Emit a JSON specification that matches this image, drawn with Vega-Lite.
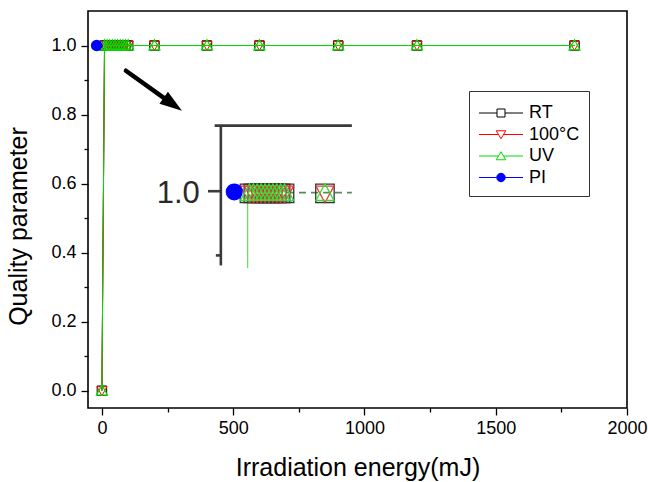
{
  "$schema": "https://vega.github.io/schema/vega-lite/v6.json",
  "width": 539,
  "height": 397,
  "autosize": "none",
  "padding": {"left": 88, "top": 11, "right": 21, "bottom": 74},
  "background": "white",
  "config": {
    "view": {"stroke": "black", "strokeWidth": 1.6},
    "font": "Liberation Sans",
    "axis": {
      "domain": false, "grid": false, "tickColor": "black", "tickWidth": 1.3,
      "labelColor": "black", "titleColor": "black",
      "labelFont": "Liberation Sans", "titleFont": "Liberation Sans",
      "labelFontSize": 18, "titleFontSize": 25, "titleFontWeight": "normal"
    },
    "legend": {
      "orient": "none", "legendX": 381, "legendY": 80, "padding": 9, "strokeColor": "#333333", "fillColor": "white",
      "symbolSize": 100, "symbolStrokeWidth": 1, "symbolOffset": 14, "labelOffset": 19, "rowPadding": 3.5,
      "labelFontSize": 18, "labelFont": "Liberation Sans", "labelColor": "black", "cornerRadius": 0,
      "titleFontSize": 4, "titlePadding": 0, "titleFont": "Liberation Sans"
    }
  },
  "datasets": {
    "main": [
      {"series": "RT", "x": 0, "y": 0}, {"series": "RT", "x": 10, "y": 1}, {"series": "RT", "x": 20, "y": 1}, {"series": "RT", "x": 30, "y": 1}, {"series": "RT", "x": 40, "y": 1}, {"series": "RT", "x": 50, "y": 1}, {"series": "RT", "x": 60, "y": 1}, {"series": "RT", "x": 70, "y": 1}, {"series": "RT", "x": 80, "y": 1}, {"series": "RT", "x": 90, "y": 1}, {"series": "RT", "x": 100, "y": 1}, {"series": "RT", "x": 200, "y": 1}, {"series": "RT", "x": 400, "y": 1}, {"series": "RT", "x": 600, "y": 1}, {"series": "RT", "x": 900, "y": 1}, {"series": "RT", "x": 1200, "y": 1}, {"series": "RT", "x": 1800, "y": 1},
      {"series": "100°C", "x": 0, "y": 0}, {"series": "100°C", "x": 10, "y": 1}, {"series": "100°C", "x": 20, "y": 1}, {"series": "100°C", "x": 30, "y": 1}, {"series": "100°C", "x": 40, "y": 1}, {"series": "100°C", "x": 50, "y": 1}, {"series": "100°C", "x": 60, "y": 1}, {"series": "100°C", "x": 70, "y": 1}, {"series": "100°C", "x": 80, "y": 1}, {"series": "100°C", "x": 90, "y": 1}, {"series": "100°C", "x": 100, "y": 1}, {"series": "100°C", "x": 200, "y": 1}, {"series": "100°C", "x": 400, "y": 1}, {"series": "100°C", "x": 600, "y": 1}, {"series": "100°C", "x": 900, "y": 1}, {"series": "100°C", "x": 1200, "y": 1}, {"series": "100°C", "x": 1800, "y": 1},
      {"series": "UV", "x": 0, "y": 0}, {"series": "UV", "x": 10, "y": 1}, {"series": "UV", "x": 20, "y": 1}, {"series": "UV", "x": 30, "y": 1}, {"series": "UV", "x": 40, "y": 1}, {"series": "UV", "x": 50, "y": 1}, {"series": "UV", "x": 60, "y": 1}, {"series": "UV", "x": 70, "y": 1}, {"series": "UV", "x": 80, "y": 1}, {"series": "UV", "x": 90, "y": 1}, {"series": "UV", "x": 100, "y": 1}, {"series": "UV", "x": 200, "y": 1}, {"series": "UV", "x": 400, "y": 1}, {"series": "UV", "x": 600, "y": 1}, {"series": "UV", "x": 900, "y": 1}, {"series": "UV", "x": 1200, "y": 1}, {"series": "UV", "x": 1800, "y": 1},
      {"series": "PI", "x": -20, "y": 1}
    ],
    "insetPts": [
      {"series": "RT", "x": 561.9, "y": 0.572}, {"series": "RT", "x": 576.8, "y": 0.572}, {"series": "RT", "x": 591.6, "y": 0.572}, {"series": "RT", "x": 606.5, "y": 0.572}, {"series": "RT", "x": 621.3, "y": 0.572}, {"series": "RT", "x": 636.2, "y": 0.572}, {"series": "RT", "x": 651.0, "y": 0.572}, {"series": "RT", "x": 665.9, "y": 0.572}, {"series": "RT", "x": 680.8, "y": 0.572}, {"series": "RT", "x": 695.6, "y": 0.572}, {"series": "RT", "x": 849.5, "y": 0.572},
      {"series": "100°C", "x": 561.9, "y": 0.572}, {"series": "100°C", "x": 576.8, "y": 0.572}, {"series": "100°C", "x": 591.6, "y": 0.572}, {"series": "100°C", "x": 606.5, "y": 0.572}, {"series": "100°C", "x": 621.3, "y": 0.572}, {"series": "100°C", "x": 636.2, "y": 0.572}, {"series": "100°C", "x": 651.0, "y": 0.572}, {"series": "100°C", "x": 665.9, "y": 0.572}, {"series": "100°C", "x": 680.8, "y": 0.572}, {"series": "100°C", "x": 695.6, "y": 0.572}, {"series": "100°C", "x": 849.5, "y": 0.572},
      {"series": "UV", "x": 561.9, "y": 0.572}, {"series": "UV", "x": 576.8, "y": 0.572}, {"series": "UV", "x": 591.6, "y": 0.572}, {"series": "UV", "x": 606.5, "y": 0.572}, {"series": "UV", "x": 621.3, "y": 0.572}, {"series": "UV", "x": 636.2, "y": 0.572}, {"series": "UV", "x": 651.0, "y": 0.572}, {"series": "UV", "x": 665.9, "y": 0.572}, {"series": "UV", "x": 680.8, "y": 0.572}, {"series": "UV", "x": 695.6, "y": 0.572}, {"series": "UV", "x": 849.5, "y": 0.572},
      {"series": "PI", "x": 504, "y": 0.576}
    ],
    "insetRules": [
      {"part": "axis", "x": 429.5, "x2": 952, "y": 0.768, "y2": 0.768},
      {"part": "axis", "x": 453, "x2": 453, "y": 0.768, "y2": 0.363},
      {"part": "axis", "x": 404, "x2": 453, "y": 0.578, "y2": 0.578},
      {"part": "axis", "x": 434, "x2": 453, "y": 0.392, "y2": 0.392},
      {"part": "green", "x": 555, "x2": 555, "y": 0.555, "y2": 0.355},
      {"part": "dash", "x": 705, "x2": 952, "y": 0.574, "y2": 0.574}
    ],
    "insetText": [{"label": "1.0", "x": 373, "y": 0.544}],
    "arrow": [{"part": "shaft", "x": 91.4, "y": 0.927, "x2": 243.8, "y2": 0.844}],
    "arrowHead": [{"part": "head", "x": 270.1, "y": 0.830}]
  },
  "layer": [
    {
      "data": {"name": "main"},
      "transform": [{"filter": "datum.series === 'RT'"}],
      "mark": {"type": "line", "color": "black", "strokeWidth": 1},
      "encoding": {
        "x": {"field": "x", "type": "quantitative", "scale": {"domain": [-53, 2000], "nice": false, "zero": false},
          "axis": {"orient": "bottom", "values": [0, 500, 1000, 1500, 2000], "format": "d", "tickSize": 7, "labelPadding": 4, "labelFlush": false, "labelOverlap": false,
            "title": "Irradiation energy(mJ)", "titleY": 59, "titleBaseline": "middle"}},
        "y": {"field": "y", "type": "quantitative", "scale": {"domain": [-0.05, 1.1], "nice": false, "zero": false},
          "axis": {"orient": "left", "values": [0, 0.2, 0.4, 0.6, 0.8, 1.0], "format": ".1f", "tickSize": 7, "labelPadding": 5, "labelFlush": false, "labelOverlap": false,
            "title": "Quality parameter", "titleX": -70, "titleY": 215, "titleBaseline": "middle", "titleAngle": -90}}
      }
    },
    {
      "data": {"name": "main"},
      "transform": [{"filter": "datum.series === 'RT'"}],
      "mark": {"type": "point", "shape": "square", "size": 90, "filled": false, "color": "black", "strokeWidth": 1, "opacity": 1},
      "encoding": {
        "x": {"field": "x", "type": "quantitative", "axis": {"orient": "bottom", "values": [250, 750, 1250, 1750], "tickSize": 4, "labels": false, "title": null}},
        "y": {"field": "y", "type": "quantitative", "axis": {"orient": "left", "values": [0.1, 0.3, 0.5, 0.7, 0.9], "tickSize": 4, "labels": false, "title": null}}
      }
    },
    {
      "data": {"name": "main"},
      "transform": [{"filter": "datum.series === '100°C'"}],
      "mark": {"type": "line", "color": "red", "strokeWidth": 1},
      "encoding": {"x": {"field": "x", "type": "quantitative", "axis": null}, "y": {"field": "y", "type": "quantitative", "axis": null}}
    },
    {
      "data": {"name": "main"},
      "transform": [{"filter": "datum.series === '100°C'"}],
      "mark": {"type": "point", "shape": "M-1,-0.8L1,-0.8L0,1Z", "size": 100, "filled": false, "color": "red", "strokeWidth": 1, "opacity": 1},
      "encoding": {"x": {"field": "x", "type": "quantitative", "axis": null}, "y": {"field": "y", "type": "quantitative", "axis": null}}
    },
    {
      "data": {"name": "main"},
      "transform": [{"filter": "datum.series === 'UV'"}],
      "mark": {"type": "line", "color": "#00dd00", "strokeWidth": 1},
      "encoding": {"x": {"field": "x", "type": "quantitative", "axis": null}, "y": {"field": "y", "type": "quantitative", "axis": null}}
    },
    {
      "data": {"name": "main"},
      "transform": [{"filter": "datum.series === 'UV'"}],
      "mark": {"type": "point", "shape": "M0,-1.05L1,0.8L-1,0.8Z", "size": 121, "filled": false, "color": "#00dd00", "strokeWidth": 1.2, "opacity": 1},
      "encoding": {"x": {"field": "x", "type": "quantitative", "axis": null}, "y": {"field": "y", "type": "quantitative", "axis": null}}
    },
    {
      "data": {"name": "main"},
      "transform": [{"filter": "datum.series === 'PI'"}],
      "mark": {"type": "point", "shape": "circle", "size": 132, "filled": true, "color": "blue", "opacity": 1},
      "encoding": {"x": {"field": "x", "type": "quantitative", "axis": null}, "y": {"field": "y", "type": "quantitative", "axis": null}}
    },
    {
      "data": {"name": "arrow"},
      "mark": {"type": "rule", "color": "black", "strokeWidth": 4.5, "strokeCap": "round"},
      "encoding": {
        "x": {"field": "x", "type": "quantitative", "axis": null}, "y": {"field": "y", "type": "quantitative", "axis": null},
        "x2": {"field": "x2"}, "y2": {"field": "y2"}
      }
    },
    {
      "data": {"name": "arrowHead"},
      "mark": {"type": "point", "shape": "M1,0L-1,-0.65L-1,0.65Z", "size": 502, "filled": true, "color": "black", "angle": 35.5, "opacity": 1},
      "encoding": {"x": {"field": "x", "type": "quantitative", "axis": null}, "y": {"field": "y", "type": "quantitative", "axis": null}}
    },
    {
      "data": {"name": "insetRules"},
      "transform": [{"filter": "datum.part === 'axis'"}],
      "mark": {"type": "rule", "color": "#3a3a3a", "strokeWidth": 2.6},
      "encoding": {
        "x": {"field": "x", "type": "quantitative", "axis": null}, "y": {"field": "y", "type": "quantitative", "axis": null},
        "x2": {"field": "x2"}, "y2": {"field": "y2"}
      }
    },
    {
      "data": {"name": "insetRules"},
      "transform": [{"filter": "datum.part === 'green'"}],
      "mark": {"type": "rule", "color": "#66e066", "strokeWidth": 1.3},
      "encoding": {
        "x": {"field": "x", "type": "quantitative", "axis": null}, "y": {"field": "y", "type": "quantitative", "axis": null},
        "x2": {"field": "x2"}, "y2": {"field": "y2"}
      }
    },
    {
      "data": {"name": "insetRules"},
      "transform": [{"filter": "datum.part === 'dash'"}],
      "mark": {"type": "rule", "color": "#5a8a5a", "strokeWidth": 1.6, "strokeDash": [7, 5]},
      "encoding": {
        "x": {"field": "x", "type": "quantitative", "axis": null}, "y": {"field": "y", "type": "quantitative", "axis": null},
        "x2": {"field": "x2"}, "y2": {"field": "y2"}
      }
    },
    {
      "data": {"name": "insetText"},
      "mark": {"type": "text", "align": "right", "baseline": "alphabetic", "fontSize": 31, "font": "Liberation Sans", "color": "#2a2a2a"},
      "encoding": {
        "x": {"field": "x", "type": "quantitative", "axis": null}, "y": {"field": "y", "type": "quantitative", "axis": null},
        "text": {"field": "label"}
      }
    },
    {
      "data": {"name": "insetPts"},
      "transform": [{"filter": "datum.series === 'RT'"}],
      "mark": {"type": "point", "shape": "square", "size": 340, "filled": false, "color": "#333333", "strokeWidth": 1.3, "opacity": 1},
      "encoding": {"x": {"field": "x", "type": "quantitative", "axis": null}, "y": {"field": "y", "type": "quantitative", "axis": null}}
    },
    {
      "data": {"name": "insetPts"},
      "transform": [{"filter": "datum.series === '100°C'"}],
      "mark": {"type": "point", "shape": "M-1,-0.8L1,-0.8L0,1.05Z", "size": 324, "filled": false, "color": "#ee3333", "strokeWidth": 1.3, "opacity": 1},
      "encoding": {"x": {"field": "x", "type": "quantitative", "axis": null}, "y": {"field": "y", "type": "quantitative", "axis": null}}
    },
    {
      "data": {"name": "insetPts"},
      "transform": [{"filter": "datum.series === 'UV'"}],
      "mark": {"type": "point", "shape": "M0,-1.05L1,0.8L-1,0.8Z", "size": 324, "filled": false, "color": "#33dd33", "strokeWidth": 1.3, "opacity": 1},
      "encoding": {"x": {"field": "x", "type": "quantitative", "axis": null}, "y": {"field": "y", "type": "quantitative", "axis": null}}
    },
    {
      "data": {"name": "insetPts"},
      "transform": [{"filter": "datum.series === 'PI'"}],
      "mark": {"type": "point", "shape": "circle", "size": 290, "filled": true, "color": "blue", "opacity": 1},
      "encoding": {"x": {"field": "x", "type": "quantitative", "axis": null}, "y": {"field": "y", "type": "quantitative", "axis": null}}
    },
    {
      "data": {"name": "main"},
      "transform": [{"filter": "false"}],
      "mark": {"type": "point", "strokeWidth": 1, "opacity": 1},
      "encoding": {
        "x": {"field": "x", "type": "quantitative", "axis": null},
        "y": {"field": "y", "type": "quantitative", "axis": null},
        "shape": {"field": "series", "type": "nominal",
          "scale": {"domain": ["RT", "100°C", "UV", "PI"], "range": [
            "M-4.4,0H-0.8M-0.8,-0.8H0.8V0.8H-0.8ZM0.8,0H4.4",
            "M-4.4,0H-0.5M-0.95,-0.75H0.95L0,0.85ZM0.5,0H4.4",
            "M-4.4,0H-0.5M-0.95,0.75H0.95L0,-0.85ZM0.5,0H4.4",
            "M-4.4,0H-0.85M-0.85,0A0.85,0.85,0,1,0,0.85,0A0.85,0.85,0,1,0,-0.85,0ZM0.85,0H4.4"]},
          "legend": {"title": " "}},
        "stroke": {"field": "series", "type": "nominal",
          "scale": {"domain": ["RT", "100°C", "UV", "PI"], "range": ["black", "red", "#00dd00", "blue"]},
          "legend": {"title": " "}},
        "fill": {"field": "series", "type": "nominal",
          "scale": {"domain": ["RT", "100°C", "UV", "PI"], "range": ["white", "white", "white", "blue"]},
          "legend": {"title": " "}}
      }
    }
  ],
  "resolve": {"axis": {"x": "independent", "y": "independent"}}
}
